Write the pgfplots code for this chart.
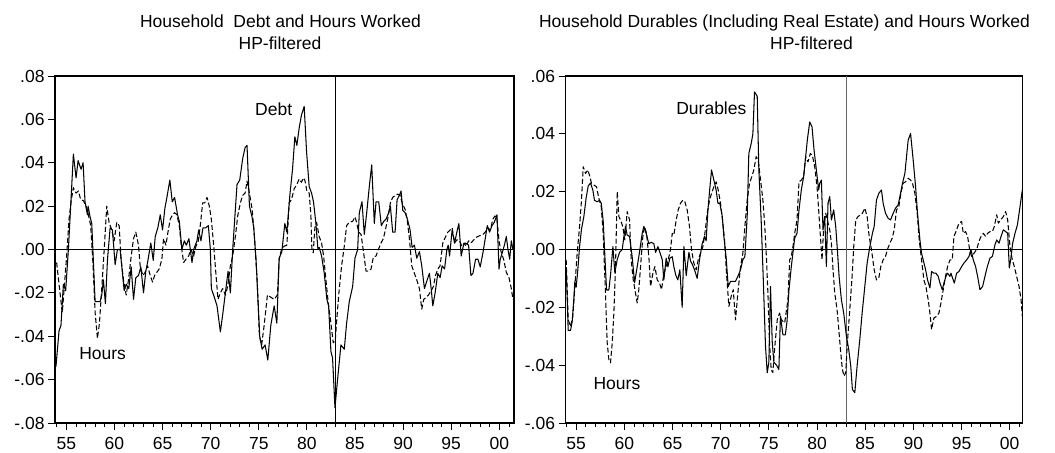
\documentclass[border=0pt]{standalone}
\usepackage{fontspec}
\setmainfont{Liberation Sans}
\usepackage{pgfplots}
\usepackage{pgfplotstable}
\pgfplotsset{compat=1.18}

\pgfplotstableread{
x y
1953.92 -0.054
1954.24 -0.0375
1954.44 -0.035
1954.69 -0.016
1954.93 -0.019
1955.21 0.000
1955.45 0.020
1955.73 0.044
1956.01 0.033
1956.22 0.041
1956.53 0.037
1956.74 0.040
1956.94 0.022
1957.19 0.016
1957.26 0.020
1957.47 0.015
1957.64 0.012
1957.99 -0.024
1958.51 -0.024
1958.68 -0.021
1958.85 -0.014
1959.06 -0.025
1959.27 -0.005
1959.55 0.010
1959.79 0.009
1960.07 -0.007
1960.31 0.000
1960.59 0.000
1961.01 -0.019
1961.22 -0.016
1961.49 -0.018
1961.74 -0.008
1961.98 -0.023
1962.22 -0.013
1962.50 -0.012
1962.74 -0.008
1963.02 -0.020
1963.26 -0.010
1963.44 -0.006
1963.78 0.003
1964.03 -0.005
1964.24 0.006
1964.51 0.010
1964.76 0.016
1965.00 0.009
1965.24 0.019
1965.45 0.024
1965.76 0.032
1966.01 0.022
1966.25 0.024
1966.56 0.016
1966.74 0.013
1967.01 0.000
1967.26 0.004
1967.47 0.002
1967.74 0.005
1968.06 -0.006
1968.23 0.000
1968.58 0.004
1968.75 0.009
1968.99 0.004
1969.20 0.010
1969.48 0.010
1969.76 0.011
1969.97 0.000
1970.07 -0.018
1970.38 -0.022
1970.66 -0.026
1971.01 -0.038
1971.28 -0.029
1971.53 -0.020
1971.81 -0.010
1972.05 -0.020
1972.29 0.000
1972.74 0.030
1973.02 0.032
1973.33 0.042
1973.58 0.047
1973.78 0.048
1974.03 0.020
1974.30 0.015
1974.48 0.010
1974.72 -0.005
1975.10 -0.040
1975.35 -0.046
1975.66 -0.044
1975.94 -0.051
1976.25 -0.035
1976.60 -0.026
1976.88 -0.034
1977.12 -0.004
1977.40 -0.001
1977.71 0.012
1977.92 0.008
1978.23 0.025
1978.51 0.037
1978.75 0.052
1978.96 0.048
1979.20 0.056
1979.44 0.062
1979.72 0.066
1979.97 0.045
1980.24 0.029
1980.49 0.026
1980.69 0.022
1980.94 0.012
1981.15 0.000
1981.28 0.001
1981.53 -0.003
1981.81 -0.011
1982.08 -0.023
1982.26 -0.026
1982.50 -0.047
1982.67 -0.050
1982.92 -0.073
1983.19 -0.060
1983.54 -0.044
1983.89 -0.046
1984.13 -0.034
1984.41 -0.024
1984.76 -0.017
1985.00 -0.004
1985.28 0.000
1985.45 0.017
1985.73 0.022
1985.97 0.007
1986.22 0.017
1986.49 0.029
1986.74 0.039
1987.01 0.012
1987.19 0.022
1987.47 0.022
1987.74 0.011
1987.99 0.013
1988.23 0.014
1988.51 0.017
1988.68 0.020
1988.92 0.008
1989.17 0.008
1989.38 0.023
1989.62 0.025
1989.79 0.027
1989.97 0.018
1990.21 0.017
1990.45 0.014
1990.73 0.009
1990.94 0.001
1991.18 0.002
1991.42 -0.004
1991.70 -0.001
1991.94 -0.0075
1992.22 -0.018
1992.47 -0.0145
1992.74 -0.011
1992.92 -0.018
1993.09 -0.026
1993.33 -0.020
1993.61 -0.011
1993.85 -0.013
1994.06 -0.0075
1994.31 -0.009
1994.55 0.000
1994.69 0.002
1994.83 -0.003
1995.10 0.009
1995.35 0.003
1995.59 0.008
1995.80 0.012
1996.04 -0.003
1996.28 0.002
1996.49 0.003
1996.81 0.002
1997.05 -0.012
1997.26 -0.011
1997.54 -0.0045
1997.78 -0.0045
1998.02 -0.008
1998.30 -0.0015
1998.54 0.005
1998.75 0.011
1998.99 0.008
1999.24 0.011
1999.48 0.0125
1999.76 0.016
1999.97 -0.009
2000.10 -0.0045
2000.31 -0.0015
2000.56 0.0025
2000.73 0.006
2000.90 0.000
2001.08 -0.0045
2001.25 0.004
2001.42 0.000
}\debt

\pgfplotstableread{
x y
1953.99 -0.006
1954.34 -0.020
1954.58 -0.029
1954.79 -0.017
1955.03 -0.003
1955.28 0.014
1955.52 0.023
1955.73 0.0285
1956.01 0.026
1956.25 0.027
1956.49 0.023
1956.77 0.0225
1957.05 0.020
1957.29 0.016
1957.53 0.011
1957.74 -0.0045
1957.99 -0.029
1958.23 -0.041
1958.44 -0.034
1958.68 -0.018
1958.92 -0.001
1959.20 0.020
1959.44 0.0125
1959.72 0.009
1959.97 0.004
1960.24 0.0125
1960.49 0.011
1960.69 -0.0045
1960.94 -0.014
1961.22 -0.021
1961.46 -0.014
1961.70 -0.0045
1961.98 0.005
1962.22 0.008
1962.50 0.002
1962.67 -0.0075
1962.95 -0.012
1963.19 -0.0105
1963.44 -0.0075
1963.72 -0.012
1963.96 -0.015
1964.17 -0.012
1964.41 -0.0105
1964.65 -0.009
1964.93 -0.0045
1965.10 0.005
1965.35 0.002
1965.56 0.008
1965.80 0.014
1966.04 0.016
1966.25 0.017
1966.49 0.016
1966.74 0.011
1966.94 0.002
1967.19 -0.006
1967.43 -0.0045
1967.71 -0.003
1967.95 0.000
1968.23 -0.003
1968.47 0.0015
1968.72 0.004
1968.92 0.011
1969.17 0.0215
1969.38 0.0215
1969.62 0.024
1969.86 0.020
1970.07 0.014
1970.31 0.002
1970.56 -0.012
1970.76 -0.023
1971.01 -0.020
1971.25 -0.018
1971.53 -0.021
1971.77 -0.017
1972.05 -0.0075
1972.29 -0.003
1972.57 0.006
1972.81 0.0155
1973.09 0.0215
1973.33 0.025
1973.58 0.026
1973.78 0.0315
1974.03 0.026
1974.31 0.0185
1974.55 0.006
1974.83 -0.014
1975.07 -0.040
1975.30 -0.044
1975.56 -0.035
1975.90 -0.021
1976.25 -0.022
1976.60 -0.023
1976.94 -0.021
1977.12 -0.0045
1977.36 0.000
1977.64 0.0015
1977.92 0.002
1978.16 0.0215
1978.40 0.023
1978.68 0.028
1978.96 0.030
1979.20 0.0325
1979.44 0.031
1979.62 0.033
1979.79 0.032
1980.00 0.027
1980.24 0.026
1980.42 0.0155
1980.52 0.000
1980.66 -0.0015
1980.83 0.010
1981.01 0.0125
1981.28 0.006
1981.53 0.003
1981.74 -0.003
1981.98 -0.014
1982.22 -0.0245
1982.50 -0.034
1982.74 -0.043
1982.95 -0.042
1983.13 -0.031
1983.37 -0.018
1983.61 -0.0075
1983.89 0.0015
1984.13 0.011
1984.41 0.0125
1984.76 0.013
1985.00 0.015
1985.17 0.0125
1985.38 0.008
1985.63 0.007
1985.90 -0.0015
1986.15 -0.010
1986.42 -0.010
1986.67 -0.009
1986.91 -0.0035
1987.19 -0.003
1987.43 0.000
1987.71 0.003
1987.95 0.005
1988.16 0.009
1988.40 0.014
1988.68 0.0215
1988.92 0.024
1989.17 0.025
1989.44 0.0255
1989.69 0.025
1989.90 0.0215
1990.21 0.0185
1990.42 0.014
1990.66 0.005
1990.90 -0.0075
1991.18 -0.011
1991.42 -0.014
1991.70 -0.018
1991.94 -0.0275
1992.15 -0.023
1992.40 -0.022
1992.64 -0.021
1992.92 -0.019
1993.16 -0.017
1993.37 -0.012
1993.61 -0.009
1993.85 -0.0075
1994.13 0.003
1994.38 0.0055
1994.65 0.008
1994.90 0.009
1995.10 0.010
1995.35 0.003
1995.59 0.0045
1995.87 0.004
1996.11 0.0015
1996.35 0.003
1996.56 0.0015
1996.81 0.004
1997.05 0.003
1997.26 0.004
1997.54 0.0055
1997.78 0.006
1998.02 0.0065
1998.30 0.007
1998.54 0.008
1998.82 0.010
1999.06 0.009
1999.34 0.014
1999.55 0.0155
1999.76 0.014
1999.97 0.004
2000.21 -0.0015
2000.45 -0.0045
2000.73 -0.0105
2001.01 -0.013
2001.25 -0.018
2001.42 -0.023
}\hoursA

\pgfplotstableread{
x y
1953.96 -0.006
1954.17 -0.028
1954.41 -0.028
1954.58 -0.025
1954.76 -0.017
1954.86 -0.011
1955.00 -0.013
1955.17 -0.007
1955.35 0.001
1955.55 0.007
1955.80 0.0115
1956.04 0.018
1956.25 0.022
1956.49 0.023
1956.73 0.0205
1956.90 0.017
1957.18 0.0165
1957.42 0.017
1957.60 0.016
1957.80 0.010
1957.98 -0.0025
1958.15 -0.014
1958.39 -0.014
1958.56 -0.009
1958.81 0.001
1959.01 -0.008
1959.26 -0.0035
1959.50 -0.001
1959.78 0.000
1959.95 0.0045
1960.12 0.008
1960.29 0.005
1960.54 0.0045
1960.81 -0.0025
1961.06 -0.0115
1961.33 -0.006
1961.57 -0.001
1961.85 0.0055
1962.02 0.008
1962.27 0.0055
1962.54 0.002
1962.79 0.0025
1963.06 0.002
1963.24 -0.001
1963.48 0.001
1963.69 -0.001
1963.93 -0.0035
1964.10 -0.0105
1964.34 -0.003
1964.52 -0.006
1964.72 -0.003
1964.97 -0.0025
1965.14 -0.006
1965.35 -0.009
1965.55 -0.0105
1965.76 -0.007
1966.00 -0.020
1966.18 0.001
1966.42 -0.009
1966.70 -0.001
1966.87 -0.004
1967.04 -0.005
1967.28 -0.007
1967.56 -0.010
1967.80 -0.0035
1968.08 0.002
1968.32 0.0045
1968.49 0.003
1968.67 0.0135
1968.88 0.0215
1969.05 0.0275
1969.29 0.024
1969.53 0.0205
1969.71 0.016
1969.91 0.016
1970.16 0.0115
1970.33 0.0045
1970.57 -0.003
1970.78 -0.0128
1971.02 -0.011
1971.26 -0.011
1971.54 -0.011
1971.78 -0.0093
1972.06 -0.007
1972.30 -0.0035
1972.51 -0.0025
1972.75 0.0115
1972.92 0.0332
1973.17 0.0367
1973.34 0.040
1973.51 0.0545
1973.79 0.053
1973.96 0.0275
1974.20 0.0102
1974.41 -0.0093
1974.65 -0.0334
1974.83 -0.0426
1975.00 -0.039
1975.17 -0.0128
1975.35 -0.032
1975.52 -0.039
1975.80 -0.040
1976.04 -0.0415
1976.20 -0.023
1976.46 -0.0295
1976.71 -0.0295
1976.88 -0.025
1977.09 -0.0139
1977.33 -0.0059
1977.68 0.0039
1977.92 0.0056
1978.13 0.0137
1978.37 0.0206
1978.61 0.0252
1978.82 0.0321
1978.99 0.0378
1979.24 0.0441
1979.48 0.0424
1979.69 0.0344
1979.93 0.0275
1980.17 0.0206
1980.28 0.0229
1980.45 0.024
1980.62 0.0068
1980.80 0.0114
1980.97 -0.0059
1981.14 0.016
1981.32 0.0183
1981.49 0.0102
1981.73 0.0137
1981.94 0.0079
1982.11 0.000
1982.29 -0.0093
1982.53 -0.0174
1982.77 -0.022
1983.05 -0.030
1983.29 -0.0346
1983.50 -0.0403
1983.67 -0.0484
1983.92 -0.0495
1984.16 -0.0403
1984.44 -0.0311
1984.68 -0.022
1984.96 -0.0128
1985.20 -0.0047
1985.48 0.001
1985.75 0.0056
1985.93 0.0079
1986.17 0.0171
1986.41 0.0194
1986.69 0.0206
1986.86 0.016
1987.11 0.0125
1987.38 0.0108
1987.63 0.0102
1987.90 0.0125
1988.15 0.0143
1988.42 0.0154
1988.67 0.0194
1988.87 0.0229
1989.12 0.0263
1989.29 0.0321
1989.46 0.0378
1989.71 0.0401
1989.98 0.031
1990.23 0.0217
1990.43 0.0125
1990.68 0.0033
1990.85 -0.0013
1991.02 -0.0036
1991.27 -0.007
1991.47 -0.0105
1991.72 -0.0133
1991.89 -0.0076
1992.13 -0.0082
1992.34 -0.0082
1992.58 -0.0093
1992.76 -0.0116
1993.00 -0.0139
1993.17 -0.0116
1993.38 -0.0093
1993.55 -0.0082
1993.80 -0.0093
1993.90 -0.0082
1994.07 -0.0099
1994.25 -0.0116
1994.49 -0.0082
1994.73 -0.0076
1995.01 -0.0059
1995.25 -0.0047
1995.53 -0.0036
1995.77 -0.0024
1995.98 0.000
1996.22 -0.0036
1996.46 -0.0059
1996.67 -0.0093
1996.91 -0.0139
1997.19 -0.0128
1997.43 -0.0093
1997.68 -0.0059
1997.95 -0.003
1998.20 -0.0024
1998.47 0.0016
1998.65 0.0033
1998.89 0.0022
1999.10 0.0045
1999.34 0.0068
1999.58 0.0062
1999.79 0.0056
1999.96 -0.0064
2000.10 -0.0036
2000.31 0.0022
2000.55 0.0056
2000.80 0.0085
2001.07 0.0148
2001.31 0.0206
}\durables

\pgfplotstableread{
x y
1953.96 -0.0036
1954.17 -0.0243
1954.41 -0.0266
1954.65 -0.0231
1954.86 -0.0128
1955.10 -0.0013
1955.35 0.0079
1955.55 0.0171
1955.73 0.0286
1955.97 0.0263
1956.21 0.0275
1956.42 0.0252
1956.59 0.0229
1956.83 0.0223
1957.11 0.0217
1957.35 0.0177
1957.60 0.0148
1957.80 0.0056
1958.04 -0.0151
1958.22 -0.0323
1958.39 -0.038
1958.56 -0.0392
1958.74 -0.0323
1958.91 -0.022
1959.08 -0.0059
1959.26 0.020
1959.43 0.0114
1959.60 0.0102
1959.84 0.0079
1960.05 0.0033
1960.29 0.0131
1960.54 0.0102
1960.71 -0.0036
1960.92 -0.0105
1961.16 -0.0151
1961.33 -0.0185
1961.50 -0.0139
1961.68 -0.0059
1961.92 0.0045
1962.09 0.0079
1962.30 0.0056
1962.54 -0.0024
1962.72 -0.0128
1962.96 -0.0082
1963.17 -0.0059
1963.41 -0.0105
1963.65 -0.0116
1963.86 -0.0139
1964.10 -0.0082
1964.34 -0.0059
1964.55 -0.0036
1964.79 0.000
1964.97 0.0056
1965.14 0.005
1965.38 0.0102
1965.59 0.0137
1965.83 0.016
1966.07 0.0171
1966.28 0.0165
1966.52 0.0137
1966.76 0.0079
1966.97 0.000
1967.21 -0.0047
1967.46 -0.007
1967.66 -0.0036
1967.91 -0.0013
1968.15 0.001
1968.36 0.0056
1968.60 0.0125
1968.84 0.0171
1969.05 0.0194
1969.29 0.0217
1969.53 0.0234
1969.74 0.0206
1969.98 0.016
1970.15 0.0114
1970.40 0.0033
1970.60 -0.0082
1970.85 -0.0197
1971.09 -0.0162
1971.30 -0.0139
1971.54 -0.0243
1971.78 -0.0151
1972.06 -0.0059
1972.30 -0.0013
1972.51 0.0079
1972.75 0.0171
1972.99 0.0229
1973.23 0.0252
1973.44 0.0275
1973.68 0.0321
1973.89 0.031
1974.14 0.024
1974.38 0.0171
1974.58 0.0079
1974.76 -0.0036
1974.90 -0.0151
1975.07 -0.0323
1975.24 -0.0415
1975.41 -0.0426
1975.59 -0.0346
1975.87 -0.0243
1976.11 -0.022
1976.29 -0.0243
1976.64 -0.0254
1976.98 -0.0174
1977.16 -0.0036
1977.33 -0.0024
1977.50 0.001
1977.68 0.0056
1977.92 0.0102
1978.13 0.0234
1978.37 0.024
1978.61 0.0252
1978.82 0.0321
1979.06 0.0303
1979.31 0.0332
1979.51 0.0326
1979.76 0.0286
1980.00 0.0217
1980.17 0.0137
1980.35 0.0045
1980.52 -0.0036
1980.69 0.0079
1980.90 0.0125
1981.07 0.0102
1981.32 0.0068
1981.49 0.0022
1981.66 -0.007
1981.84 -0.0151
1982.08 -0.0208
1982.29 -0.0289
1982.46 -0.0357
1982.63 -0.0415
1982.81 -0.0438
1982.98 -0.0426
1983.15 -0.0323
1983.40 -0.0208
1983.64 -0.0093
1983.81 0.001
1984.02 0.0102
1984.26 0.0114
1984.51 0.012
1984.71 0.0125
1984.96 0.0143
1985.20 0.0114
1985.41 0.0045
1985.65 0.000
1985.93 -0.007
1986.17 -0.0105
1986.41 -0.0099
1986.62 -0.0059
1986.86 -0.0036
1987.11 -0.0024
1987.31 0.000
1987.56 0.0022
1987.80 0.0039
1988.01 0.0068
1988.25 0.0137
1988.49 0.0148
1988.70 0.0194
1988.94 0.0229
1989.18 0.0234
1989.46 0.0246
1989.71 0.024
1989.91 0.0229
1990.16 0.0194
1990.40 0.0125
1990.61 0.0033
1990.85 -0.0036
1991.09 -0.0105
1991.30 -0.0128
1991.54 -0.0174
1991.72 -0.022
1991.89 -0.0277
1992.13 -0.0237
1992.41 -0.0231
1992.65 -0.022
1992.86 -0.0185
1993.10 -0.0139
1993.34 -0.0093
1993.55 -0.0059
1993.80 -0.0036
1994.04 -0.0036
1994.21 0.0045
1994.49 0.0068
1994.73 0.0091
1995.01 0.0097
1995.18 0.0056
1995.42 0.0062
1995.63 0.0045
1995.87 -0.0007
1996.05 -0.0024
1996.29 -0.0013
1996.57 0.000
1996.81 0.0028
1997.02 0.0045
1997.26 0.0056
1997.50 0.0045
1997.71 0.0056
1997.95 0.0062
1998.20 0.0062
1998.40 0.0079
1998.65 0.012
1998.82 0.0091
1999.06 0.0102
1999.34 0.0114
1999.58 0.0131
1999.79 0.0102
2000.03 0.001
2000.27 -0.0036
2000.48 -0.0059
2000.72 -0.0093
2000.97 -0.0128
2001.18 -0.0174
2001.31 -0.0231
}\hoursB

\pgfplotsset{
  panel/.style={
    scale only axis, anchor=south west,
    width=459bp, height=347bp,
    axis line style={line width=1.2bp},
    tick style={black, line width=0.8bp},
    tick align=outside,
    xtick pos=bottom, ytick pos=left,
    major tick length=7bp, minor tick length=4bp,
    xtick={1955,1960,1965,1970,1975,1980,1985,1990,1995,2000},
    xticklabels={55,60,65,70,75,80,85,90,95,00},
    minor xtick={1954,1956,1957,1958,1959,1961,1962,1963,1964,1966,1967,1968,1969,1971,1972,1973,1974,1976,1977,1978,1979,1981,1982,1983,1984,1986,1987,1988,1989,1991,1992,1993,1994,1996,1997,1998,1999,2001},
    ticklabel style={font=\fontsize{17.5bp}{17.5bp}\selectfont},
    xticklabel style={yshift=-4bp},
    scaled ticks=false,
  },
  solidser/.style={black, line width=1.05bp, line join=round},
  dashser/.style={black, line width=1.05bp, dash pattern=on 5bp off 2.5bp, line join=round},
}

\begin{document}
\begin{tikzpicture}
\useasboundingbox (0,0) rectangle (1055bp,453bp);
\tikzset{ttl/.style={anchor=base, inner sep=0pt, font=\fontsize{17.5bp}{21bp}\selectfont}}
\node[ttl] at (280.5bp,425.7bp) {Household\ \ Debt and Hours Worked};
\node[ttl] at (280bp,403.7bp) {HP-filtered};
\node[ttl] at (784.5bp,425.7bp) {Household Durables (Including Real Estate) and Hours Worked};
\node[ttl] at (811.5bp,403.7bp) {HP-filtered};

\begin{axis}[panel, at={(55bp,30bp)},
  xmin=1953.82, xmax=2001.53, ymin=-0.08, ymax=0.08,
  ytick={-0.08,-0.06,-0.04,-0.02,0,0.02,0.04,0.06,0.08},
  yticklabels={-.08,-.06,-.04,-.02,.00,.02,.04,.06,.08}]
\draw[line width=0.7bp] (axis cs:1953.82,0) -- (axis cs:2001.53,0);
\draw[line width=0.7bp] (axis cs:1983,-0.08) -- (axis cs:1983,0.08);
\addplot[dashser] table[x=x,y=y] {\hoursA};
\addplot[solidser] table[x=x,y=y] {\debt};
\node[font=\fontsize{17.5bp}{21bp}\selectfont] at (axis cs:1976.55,0.0645) {Debt};
\node[font=\fontsize{17.5bp}{21bp}\selectfont] at (axis cs:1958.77,-0.048) {Hours};
\end{axis}

\begin{axis}[panel, at={(565.5bp,30bp)}, width=457.2bp,
  xmin=1953.89, xmax=2001.35, ymin=-0.06, ymax=0.06,
  ytick={-0.06,-0.04,-0.02,0,0.02,0.04,0.06},
  yticklabels={-.06,-.04,-.02,.00,.02,.04,.06}]
\draw[line width=0.7bp] (axis cs:1953.89,0) -- (axis cs:2001.35,0);
\draw[line width=0.7bp, black!60] (axis cs:1983,-0.06) -- (axis cs:1983,0.06);
\addplot[dashser] table[x=x,y=y] {\hoursB};
\addplot[solidser] table[x=x,y=y] {\durables};
\node[font=\fontsize{17.5bp}{21bp}\selectfont] at (axis cs:1969.03,0.049) {Durables};
\node[font=\fontsize{17.5bp}{21bp}\selectfont] at (axis cs:1959.23,-0.0465) {Hours};
\end{axis}
\end{tikzpicture}
\end{document}
